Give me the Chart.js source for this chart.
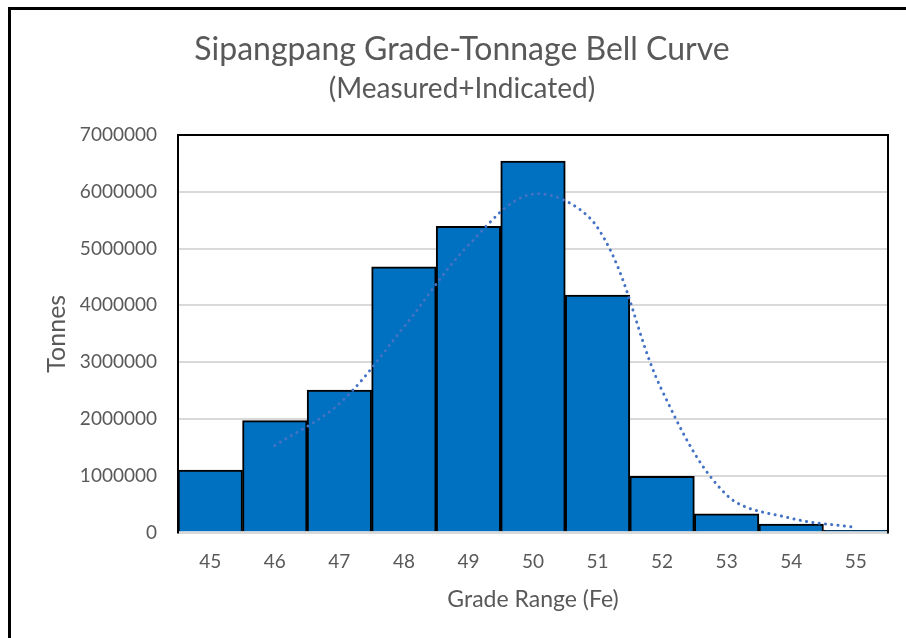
<!DOCTYPE html>
<html>
<head>
<meta charset="utf-8">
<script src="https://cdn.jsdelivr.net/npm/chart.js@4.4.0/dist/chart.umd.min.js"></script>
<style>
  html, body { margin: 0; padding: 0; background: #fff; overflow: hidden; }
  #frame { position: absolute; left: 8px; top: 7px; width: 1000px; height: 1000px;
           border-left: 3px solid #000; border-top: 3px solid #000; }
  #wrap { position: absolute; left: 9px; top: 10px; }
</style>
</head>
<body>
<div id="frame"></div>
<div id="wrap"><canvas id="mycan1" width="906" height="628"></canvas></div>
<script>
// grade bins (Fe %)
var grades = ['45', '46', '47', '48', '49', '50', '51', '52', '53', '54', '55'];
// tonnes per grade bin
var tonnes = [1100000, 1970000, 2510000, 4680000, 5390000, 6540000, 4180000, 990000, 330000, 150000, 40000];
// dotted trend curve (starts at 46)
var trend = [null, 1530000, 2270000, 3620000, 5060000, 5960000, 5370000, 2500000, 660000, 250000, 90000];
var yTicks = [0, 1000000, 2000000, 3000000, 4000000, 5000000, 6000000, 7000000];

var grey = '#595959';
var fontName = 'Lato, "Open Sans", sans-serif';

// black frame on left/top/right of plot, light grey baseline
var plotFrame = {
  id: 'plotFrame',
  afterDatasetsDraw: function(chart) {
    var a = chart.chartArea, c = chart.ctx;
    c.save();
    c.strokeStyle = '#d9d9d9';
    c.lineWidth = 2;
    c.beginPath();
    c.moveTo(a.left, a.bottom);
    c.lineTo(a.right, a.bottom);
    c.stroke();
    c.strokeStyle = '#000';
    c.lineWidth = 2;
    c.beginPath();
    c.moveTo(a.left, a.bottom + 1);
    c.lineTo(a.left, a.top);
    c.lineTo(a.right, a.top);
    c.lineTo(a.right, a.bottom + 1);
    c.stroke();
    c.restore();
  }
};

var ctx = document.getElementById('mycan1');
var chart = new Chart(ctx, {
  type: 'bar',
  data: {
    labels: grades,
    datasets: [
      {
        type: 'line',
        label: 'Trend',
        data: trend,
        borderColor: '#4472C4',
        borderWidth: 3,
        borderDash: [0.1, 6.3],
        borderCapStyle: 'round',
        tension: 0.35,
        pointRadius: 0,
        fill: false,
        order: 0
      },
      {
        label: 'Tonnes',
        data: tonnes,
        backgroundColor: '#0070C0',
        borderColor: '#000',
        borderWidth: 2,
        categoryPercentage: 1,
        barPercentage: 1,
        order: 1
      }
    ]
  },
  options: {
    responsive: false,
    animation: false,
    layout: { padding: { left: 27, right: 27, top: 0, bottom: 23 } },
    plugins: {
      legend: { display: false },
      tooltip: { enabled: false },
      title: {
        display: true,
        text: 'Sipangpang Grade-Tonnage Bell Curve',
        color: grey,
        font: { family: fontName, size: 32, weight: 'normal' },
        padding: { top: 20, bottom: 2 }
      },
      subtitle: {
        display: true,
        text: '(Measured+Indicated)',
        color: grey,
        font: { family: fontName, size: 28, weight: 'normal' },
        padding: { top: 2, bottom: 29 }
      }
    },
    scales: {
      x: {
        grid: { display: false, drawTicks: false },
        border: { display: false },
        ticks: { color: grey, font: { family: fontName, size: 19 }, padding: 18 },
        title: {
          display: true,
          text: 'Grade Range (Fe)',
          color: grey,
          font: { family: fontName, size: 23 },
          padding: { top: 0, bottom: 2 }
        },
        afterFit: function(axis) { axis.height = 82.5; }
      },
      y: {
        min: 0,
        max: 7000000,
        afterBuildTicks: function(axis) {
          axis.ticks = yTicks.map(function(v) { return { value: v }; });
        },
        grid: { color: '#d9d9d9', lineWidth: 2, drawTicks: false },
        border: { display: false },
        ticks: {
          color: grey,
          font: { family: fontName, size: 19 },
          padding: 21,
          callback: function(v) { return String(v); }
        },
        title: {
          display: true,
          text: 'Tonnes',
          color: grey,
          font: { family: fontName, size: 25 },
          padding: { top: 6, bottom: 0 }
        },
        afterFit: function(axis) { axis.width = 142; }
      }
    }
  },
  plugins: [plotFrame]
});
</script>
</body>
</html>
